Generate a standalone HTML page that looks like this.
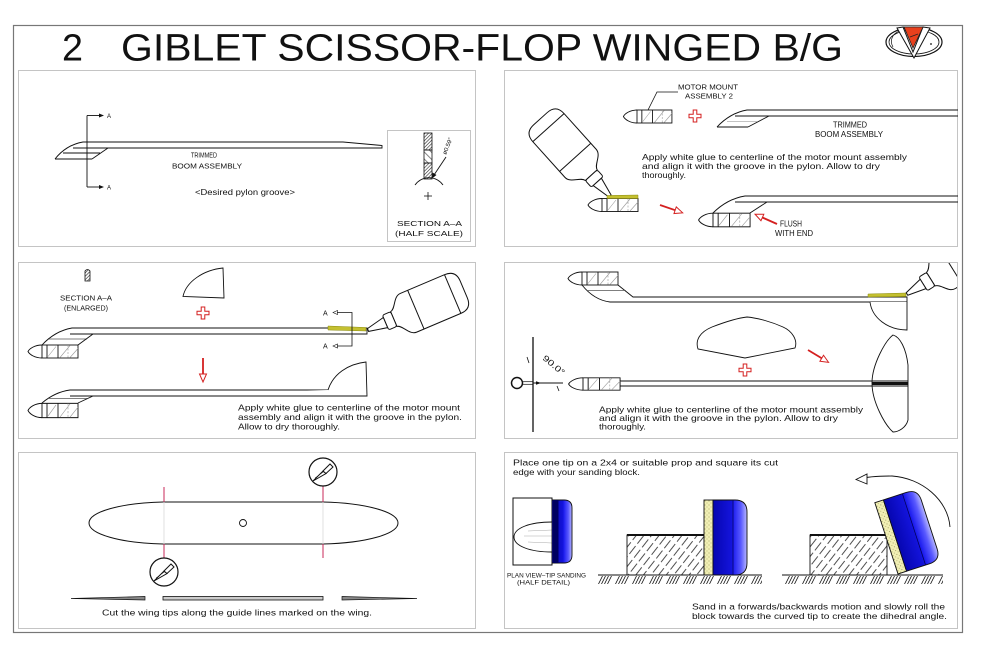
<!DOCTYPE html>
<html><head><meta charset="utf-8"><style>
html,body{margin:0;padding:0;background:#fff;}
svg{display:block;}
text{font-family:"Liberation Sans",sans-serif;fill:#111;}
</style></head><body>
<svg width="1000" height="647" viewBox="0 0 1000 647" xmlns="http://www.w3.org/2000/svg">
<defs>
<pattern id="h1" width="2.4" height="2.4" patternUnits="userSpaceOnUse" patternTransform="rotate(45)"><line x1="1.2" y1="0" x2="1.2" y2="2.4" stroke="#222" stroke-width="0.6"/></pattern>
<pattern id="h2" width="5" height="5" patternUnits="userSpaceOnUse" patternTransform="rotate(-45)"><line x1="2.5" y1="0" x2="2.5" y2="5" stroke="#333" stroke-width="0.6"/></pattern>
<pattern id="bh" width="6" height="13" patternUnits="userSpaceOnUse" patternTransform="rotate(38)"><line x1="3" y1="0" x2="3" y2="13" stroke="#222" stroke-width="0.8" stroke-dasharray="10 3"/></pattern>
<pattern id="gh" width="17" height="8" patternUnits="userSpaceOnUse" x="598" y="576"><g stroke="#111" stroke-width="0.8"><line x1="0.5" y1="8" x2="4.5" y2="0"/><line x1="3.5" y1="8" x2="7.5" y2="0"/><line x1="6.5" y1="8" x2="10.5" y2="0"/><line x1="9.5" y1="8" x2="13.5" y2="0"/></g></pattern>
<pattern id="sp" width="4" height="4" patternUnits="userSpaceOnUse"><rect width="4" height="4" fill="#f1efb4"/><circle cx="1" cy="1" r="0.5" fill="#8a8a50"/><circle cx="3" cy="3" r="0.45" fill="#a0a060"/></pattern>
<linearGradient id="bl" x1="0" y1="0" x2="1" y2="0">
<stop offset="0" stop-color="#0606b0"/><stop offset="0.55" stop-color="#1414dc"/><stop offset="0.6" stop-color="#2020f0"/><stop offset="0.82" stop-color="#5a5aff"/><stop offset="1" stop-color="#b8b8ff"/>
</linearGradient>
<clipPath id="mrclip"><rect x="505" y="263" width="452" height="175"/></clipPath>
<g id="mm" stroke="#111" stroke-width="0.9">
<path d="M0,-6.5 C-7,-6.5 -12.5,-3 -14,0 C-12.5,3 -7,6.5 0,6.5" fill="#fff"/>
<rect x="0" y="-6.5" width="36" height="13" fill="#fff"/>
<line x1="5" y1="-6.5" x2="5" y2="6.5"/>
<line x1="16" y1="-6.5" x2="16" y2="6.5"/>
<g stroke="#9a9a9a" stroke-width="0.6"><line x1="6" y1="5" x2="14" y2="-5"/><line x1="18" y1="6" x2="28" y2="-6"/><line x1="28" y1="6" x2="36" y2="-3"/><line x1="26" y1="-6.5" x2="26" y2="6.5" stroke-dasharray="2 1.5"/></g>
</g>
<g id="bottle" fill="#fff" stroke="#111" stroke-width="1">
<path d="M-8,-28 C-9,-34 -21,-36 -21,-44 L-21,-92 Q-21,-104 -9,-104 L9,-104 Q21,-104 21,-92 L21,-44 C21,-36 9,-34 8,-28 Z"/>
<line x1="-21" y1="-52" x2="21" y2="-52"/>
<line x1="-21" y1="-92" x2="21" y2="-92"/>
<rect x="-8" y="-28" width="16" height="9" rx="2"/>
<path d="M-5.5,-19 L-1.5,0 L1.5,0 L5.5,-19 Z"/>
</g>
<polygon id="rc" points="-1.8,-6 1.8,-6 1.8,-1.8 6,-1.8 6,1.8 1.8,1.8 1.8,6 -1.8,6 -1.8,1.8 -6,1.8 -6,-1.8 -1.8,-1.8" fill="#fff" stroke="#d42020" stroke-width="1"/>
<g id="ra"><line x1="0" y1="0" x2="16" y2="0" stroke="#d42020" stroke-width="1.8"/><polygon points="24,0 16,-3.5 16,3.5" fill="#fff" stroke="#d42020" stroke-width="1"/></g>
<g id="knife" stroke="#111" stroke-width="1">
<circle cx="0" cy="0" r="14" fill="#fff" stroke-width="1.2"/>
<path d="M-10,9 L0,-1 L3,1.5 Z" fill="#fff"/>
<path d="M0,-1 L7,-8 L10,-5 L3,1.5 Z" fill="#fff"/>
<line x1="-8" y1="6" x2="1" y2="-0.5" stroke-width="0.5"/>
</g>
</defs>

<!-- outer frame & title -->
<rect x="13.5" y="25.5" width="949" height="607" fill="#fff" stroke="#777" stroke-width="1.2"/>
<text x="62" y="60.5" font-size="38" textLength="21" lengthAdjust="spacingAndGlyphs">2</text>
<text x="121" y="60.5" font-size="38" textLength="722" lengthAdjust="spacingAndGlyphs">GIBLET SCISSOR-FLOP WINGED B/G</text>

<!-- logo -->
<ellipse cx="914" cy="42" rx="28" ry="14.5" fill="#fff" stroke="#111" stroke-width="1.2"/>
<ellipse cx="914" cy="42" rx="25" ry="12" fill="none" stroke="#111" stroke-width="0.8"/>
<path d="M893,47 C889,40 893,33 900,31" fill="none" stroke="#111" stroke-width="0.7"/>
<polygon points="897,28 903,27 913,52 923,27 930,28 914,58" fill="#fff" stroke="#111" stroke-width="1"/>
<polygon points="904,27 923,27 913,48" fill="#e8401c" stroke="#222" stroke-width="0.8"/>
<line x1="910" y1="37" x2="918" y2="34" stroke="#222" stroke-width="0.8"/>
<circle cx="931" cy="44" r="0.9" fill="#111"/>

<!-- panels -->
<g fill="none" stroke="#c4c4c4" stroke-width="1">
<rect x="18.5" y="70.5" width="457" height="176"/>
<rect x="504.5" y="70.5" width="453" height="176"/>
<rect x="18.5" y="262.5" width="457" height="176"/>
<rect x="504.5" y="262.5" width="453" height="176"/>
<rect x="18.5" y="452.5" width="457" height="176"/>
<rect x="504.5" y="452.5" width="453" height="176"/>
</g>

<!-- ============ TOP LEFT ============ -->
<g stroke="#111" stroke-width="0.9" fill="none">
<line x1="87" y1="115.5" x2="87" y2="187"/>
<line x1="87" y1="115.5" x2="100" y2="115.5"/>
<line x1="87" y1="187" x2="100" y2="187"/>
<path d="M55,159 Q66,145 83,142 L343,142 L382,145.5 L382,148 L73,148"/>
<line x1="63" y1="153" x2="100" y2="153"/>
<line x1="55" y1="159" x2="92" y2="159"/>
<line x1="108" y1="148" x2="92" y2="159"/>
</g>
<polygon points="104,115.5 99,113.5 99,117.5" fill="#111"/>
<polygon points="104,187 99,185 99,189" fill="#111"/>
<text x="107" y="118" font-size="6">A</text>
<text x="107" y="189.5" font-size="6">A</text>
<text x="191" y="157.5" font-size="7.5" textLength="26" lengthAdjust="spacingAndGlyphs">TRIMMED</text>
<text x="172" y="168.5" font-size="7.5" textLength="70" lengthAdjust="spacingAndGlyphs">BOOM ASSEMBLY</text>
<text x="195" y="195" font-size="8" textLength="100" lengthAdjust="spacingAndGlyphs">&lt;Desired pylon groove&gt;</text>
<rect x="387.5" y="130.5" width="83" height="111" fill="none" stroke="#c4c4c4"/>
<rect x="424" y="133" width="8" height="17" fill="url(#h1)" stroke="#111" stroke-width="0.8"/>
<rect x="424" y="150" width="8" height="13" fill="url(#h2)" stroke="#111" stroke-width="0.8"/>
<rect x="424" y="163" width="8" height="16" fill="url(#h1)" stroke="#111" stroke-width="0.8"/>
<path d="M415,185 A17,17 0 0 1 443,185" fill="none" stroke="#111" stroke-width="0.9"/>
<line x1="424" y1="196" x2="432" y2="196" stroke="#111" stroke-width="0.8"/>
<line x1="428" y1="192" x2="428" y2="200" stroke="#111" stroke-width="0.8"/>
<line x1="446" y1="157" x2="434" y2="175" stroke="#111" stroke-width="0.9"/>
<polygon points="432,178.5 432.5,172.5 436.5,175" fill="#111"/>
<text x="446" y="155" font-size="6" transform="rotate(-68 446 155)">ø0.59"</text>
<text x="397" y="226" font-size="7.5" textLength="65" lengthAdjust="spacingAndGlyphs">SECTION A–A</text>
<text x="395" y="236" font-size="7.5" textLength="68" lengthAdjust="spacingAndGlyphs">(HALF SCALE)</text>

<!-- ============ TOP RIGHT ============ -->
<text x="678" y="89.5" font-size="7.5" textLength="60" lengthAdjust="spacingAndGlyphs">MOTOR MOUNT</text>
<text x="685" y="98.5" font-size="7.5" textLength="48" lengthAdjust="spacingAndGlyphs">ASSEMBLY 2</text>
<path d="M678,92 L657,92 L648,110" fill="none" stroke="#111" stroke-width="0.8"/>
<use href="#mm" transform="translate(637,116.5) scale(0.97,1)"/>
<use href="#rc" transform="translate(695,116)"/>
<g stroke="#111" stroke-width="0.9" fill="none">
<path d="M717,127 Q730,113 747,110 L958,110"/>
<line x1="735" y1="116" x2="958" y2="116"/>
<line x1="717" y1="127" x2="748" y2="127"/>
<line x1="748" y1="127" x2="769" y2="116"/>
<line x1="727" y1="121.5" x2="758" y2="121.5" stroke="#888" stroke-width="0.6"/>
</g>
<text x="833" y="127.5" font-size="8" textLength="34" lengthAdjust="spacingAndGlyphs">TRIMMED</text>
<text x="815" y="137" font-size="8" textLength="68" lengthAdjust="spacingAndGlyphs">BOOM ASSEMBLY</text>
<text x="642" y="160" font-size="8.5" textLength="265" lengthAdjust="spacingAndGlyphs">Apply white glue to centerline of the motor mount assembly</text>
<text x="642" y="169" font-size="8.5" textLength="238" lengthAdjust="spacingAndGlyphs">and align it with the groove in the pylon. Allow to dry</text>
<text x="642" y="178" font-size="8.5" textLength="44" lengthAdjust="spacingAndGlyphs">thoroughly.</text>
<use href="#bottle" transform="translate(610,196) rotate(-42)"/>
<use href="#mm" transform="translate(602,205)"/>
<polygon points="607,195.5 638,195 638,198.5 607,198.5" fill="#c4c030" stroke="#8a8a10" stroke-width="0.5"/>
<use href="#ra" transform="translate(660,205) rotate(19)"/>
<g stroke="#111" stroke-width="0.9" fill="none">
<path d="M713,213 Q727,199 745,196 L958,196"/>
<line x1="735" y1="202" x2="958" y2="202"/>
<line x1="750" y1="213" x2="767" y2="202"/>
</g>
<use href="#mm" transform="translate(713,220) scale(1.03,1.05)"/>
<use href="#ra" transform="translate(777,224) rotate(204)"/>
<text x="780" y="226.5" font-size="8" textLength="22" lengthAdjust="spacingAndGlyphs">FLUSH</text>
<text x="775" y="236" font-size="8" textLength="38" lengthAdjust="spacingAndGlyphs">WITH END</text>

<!-- ============ MIDDLE LEFT ============ -->
<path d="M85,281 L85,271 Q87.5,268 90,271 L90,281 Z" fill="url(#h1)" stroke="#111" stroke-width="0.8"/>
<text x="60" y="300.5" font-size="7.5" textLength="52" lengthAdjust="spacingAndGlyphs">SECTION A–A</text>
<text x="64" y="310.5" font-size="7.5" textLength="44" lengthAdjust="spacingAndGlyphs">(ENLARGED)</text>
<path d="M183,296.5 C186,282 203,270 223,268 L224,298 Z" fill="#fff" stroke="#111" stroke-width="0.9"/>
<use href="#rc" transform="translate(203,313)"/>
<g stroke="#111" stroke-width="0.9" fill="none">
<path d="M42,345 Q55,331 72,328 L367,328 L367,334 L70,334"/>
<line x1="49" y1="339" x2="87" y2="339" stroke="#555" stroke-width="0.7"/>
<line x1="78" y1="345" x2="93" y2="334"/>
</g>
<use href="#mm" transform="translate(42,351.5)"/>
<polygon points="328,326 366,327.5 366,331 328,330" fill="#c4c030" stroke="#8a8a10" stroke-width="0.5"/>
<g stroke="#111" stroke-width="0.8" fill="none">
<path d="M337,312.5 L352,312.5 L352,346 L337,346"/>
</g>
<polygon points="333,312.5 337.5,310.5 337.5,314.5" fill="none" stroke="#111" stroke-width="0.6"/>
<polygon points="333,346 337.5,344 337.5,348" fill="none" stroke="#111" stroke-width="0.6"/>
<text x="323" y="315.5" font-size="7">A</text>
<text x="323" y="348.5" font-size="7">A</text>
<use href="#bottle" transform="translate(368,330) rotate(67)"/>
<use href="#ra" transform="translate(203,358) rotate(90)"/>
<g stroke="#111" stroke-width="0.9" fill="none">
<path d="M42,403 Q55,392 70,390 L328,390"/>
<path d="M328,390 C333,374 348,364 366,362 L367,396 L70,396" fill="#fff"/>
<line x1="49" y1="398.5" x2="87" y2="398.5" stroke="#555" stroke-width="0.7"/>
<line x1="78" y1="403" x2="93" y2="396"/>
</g>
<use href="#mm" transform="translate(42,410.5) scale(1,1.1)"/>
<text x="238" y="410.5" font-size="8.5" textLength="222" lengthAdjust="spacingAndGlyphs">Apply white glue to centerline of the motor mount</text>
<text x="238" y="420" font-size="8.5" textLength="224" lengthAdjust="spacingAndGlyphs">assembly and align it with the groove in the pylon.</text>
<text x="238" y="429.5" font-size="8.5" textLength="102" lengthAdjust="spacingAndGlyphs">Allow to dry thoroughly.</text>

<!-- ============ MIDDLE RIGHT ============ -->
<use href="#mm" transform="translate(582,278.5)"/>
<g stroke="#111" stroke-width="0.9" fill="none">
<path d="M582,285 Q594,300 610,302 L907,302 L907,297 L633,297 L618,285"/>
<line x1="587" y1="290.5" x2="626" y2="290.5" stroke="#555" stroke-width="0.7"/>
<path d="M870,302 C872,318 888,330 907,330 L907,302" fill="#fff"/>
</g>
<polygon points="868,294 906,293 906,296.5 868,297" fill="#c4c030" stroke="#8a8a10" stroke-width="0.5"/>
<g clip-path="url(#mrclip)"><use href="#bottle" transform="translate(907,294) rotate(58)"/></g>
<path d="M698,349 C695,340 700,332 712,327 C725,322 738,318 747,317 C758,318 772,322 783,327 C792,331 798,340 795,348 L745,358 Z" fill="#fff" stroke="#111" stroke-width="0.9"/>
<use href="#ra" transform="translate(808,350) rotate(31)"/>
<use href="#rc" transform="translate(745,370)"/>
<path d="M893,335 C900,337 906,348 908,365 L908,420 C906,428 898,432 893,432 C885,425 872,402 872,383 C872,365 885,341 893,335 Z" fill="#fff" stroke="#111" stroke-width="0.9"/>
<g stroke="#111" stroke-width="0.9" fill="none">
<line x1="620" y1="381" x2="908" y2="381"/>
<line x1="620" y1="386" x2="908" y2="386"/>
</g>
<line x1="872" y1="383.5" x2="908" y2="383.5" stroke="#111" stroke-width="3"/>
<use href="#mm" transform="translate(583,384) scale(1.03,0.95)"/>
<line x1="533" y1="337" x2="533" y2="432" stroke="#111" stroke-width="1.3"/>
<circle cx="517" cy="383" r="5.5" fill="#fff" stroke="#111" stroke-width="1.5"/>
<line x1="522.5" y1="381.7" x2="533" y2="381.7" stroke="#111" stroke-width="0.7"/>
<line x1="522.5" y1="384.3" x2="533" y2="384.3" stroke="#111" stroke-width="0.7"/>
<line x1="533" y1="383" x2="563" y2="383" stroke="#111" stroke-width="0.9"/>
<polygon points="541,383 536,381.3 536,384.7" fill="#111"/>
<line x1="557" y1="386" x2="559" y2="391" stroke="#111" stroke-width="0.8"/>
<line x1="527" y1="357" x2="529" y2="363" stroke="#111" stroke-width="0.8"/>
<text x="542" y="359" font-size="8.5" textLength="26" lengthAdjust="spacingAndGlyphs" transform="rotate(40 542 359)">90.0°</text>
<text x="599" y="412.5" font-size="8.5" textLength="264" lengthAdjust="spacingAndGlyphs">Apply white glue to centerline of the motor mount assembly</text>
<text x="599" y="421" font-size="8.5" textLength="239" lengthAdjust="spacingAndGlyphs">and align it with the groove in the pylon. Allow to dry</text>
<text x="599" y="429.5" font-size="8.5" textLength="47" lengthAdjust="spacingAndGlyphs">thoroughly.</text>

<!-- ============ BOTTOM LEFT ============ -->
<path d="M163,502 C120,503 89,512 89,523 C89,534 120,543 163,544 L323,544 C366,543 398,534 398,523 C398,512 366,503 323,502 Z" fill="#fff" stroke="#111" stroke-width="1"/>
<circle cx="243" cy="523" r="3.5" fill="#fff" stroke="#111" stroke-width="0.9"/>
<line x1="164" y1="502" x2="164" y2="544" stroke="#d8d8d8" stroke-width="0.8"/>
<line x1="323" y1="502" x2="323" y2="544" stroke="#d8d8d8" stroke-width="0.8"/>
<line x1="164" y1="487" x2="164" y2="502" stroke="#c8285a" stroke-width="1"/>
<line x1="164" y1="544" x2="164" y2="558" stroke="#c8285a" stroke-width="1"/>
<line x1="323" y1="486" x2="323" y2="502" stroke="#c8285a" stroke-width="1"/>
<line x1="323" y1="544" x2="323" y2="558" stroke="#c8285a" stroke-width="1"/>
<use href="#knife" transform="translate(164,572)"/>
<use href="#knife" transform="translate(323,472)"/>
<path d="M71,598.5 L145,596.5 L145,600 Z" fill="#888" stroke="#111" stroke-width="0.7"/>
<rect x="163" y="596.5" width="160" height="3.5" fill="#ccc" stroke="#111" stroke-width="0.8"/>
<path d="M342,596.5 L417,598.5 L342,600 Z" fill="#888" stroke="#111" stroke-width="0.7"/>
<text x="102" y="615.5" font-size="8.5" textLength="270" lengthAdjust="spacingAndGlyphs">Cut the wing tips along the guide lines marked on the wing.</text>

<!-- ============ BOTTOM RIGHT ============ -->
<text x="513" y="465.5" font-size="8.5" textLength="265" lengthAdjust="spacingAndGlyphs">Place one tip on a 2x4 or suitable prop and square its cut</text>
<text x="513" y="475" font-size="8.5" textLength="127" lengthAdjust="spacingAndGlyphs">edge with your sanding block.</text>
<!-- plan view -->
<rect x="513" y="498" width="39" height="67" fill="#fff" stroke="#111" stroke-width="1"/>
<path d="M552,522 C530,522 514,528 514,537 C514,546 530,552 552,552" fill="#fff" stroke="#111" stroke-width="0.9"/>
<g stroke="#aaa" stroke-width="0.6"><line x1="528" y1="531" x2="552" y2="530"/><line x1="524" y1="536" x2="552" y2="536"/><line x1="528" y1="542" x2="552" y2="543"/></g>
<path d="M552,500 L564,500 Q572,500 572,508 L572,555 Q572,563 564,563 L552,563 Z" fill="url(#bl)" stroke="#111" stroke-width="0.9"/>
<rect x="553" y="500" width="5.5" height="63" fill="#000060"/>
<text x="507" y="577.5" font-size="6" textLength="79" lengthAdjust="spacingAndGlyphs">PLAN VIEW–TIP SANDING</text>
<text x="517" y="584.5" font-size="6" textLength="53" lengthAdjust="spacingAndGlyphs">(HALF DETAIL)</text>
<!-- block 1 -->
<rect x="627" y="535" width="77" height="40" fill="url(#bh)" stroke="#111" stroke-width="0.9"/>
<line x1="627" y1="535" x2="704" y2="535" stroke="#111" stroke-width="2"/>
<rect x="704" y="500" width="9" height="75" fill="url(#sp)" stroke="#111" stroke-width="0.9"/>
<path d="M713,500 L735,500 Q747,500 747,512 L747,563 Q747,575 735,575 L713,575 Z" fill="url(#bl)" stroke="#111" stroke-width="0.9"/>
<line x1="733" y1="500" x2="733" y2="575" stroke="#000050" stroke-width="0.7"/>
<line x1="598" y1="575" x2="762" y2="575" stroke="#111" stroke-width="1"/>
<rect x="598" y="576" width="164" height="8" fill="url(#gh)"/>
<!-- block 2 -->
<rect x="810" y="535" width="77" height="40" fill="url(#bh)" stroke="#111" stroke-width="0.9"/>
<line x1="810" y1="535" x2="887" y2="535" stroke="#111" stroke-width="2"/>
<g transform="translate(898,574) rotate(-18)">
<rect x="0" y="-75" width="9" height="75" fill="url(#sp)" stroke="#111" stroke-width="0.9"/>
<path d="M9,-75 L33,-75 Q45,-75 45,-63 L45,-12 Q45,0 33,0 L9,0 Z" fill="url(#bl)" stroke="#111" stroke-width="0.9"/>
<line x1="29" y1="-75" x2="29" y2="0" stroke="#000050" stroke-width="0.7"/>
</g>
<line x1="782" y1="575" x2="943" y2="575" stroke="#111" stroke-width="1"/>
<rect x="782" y="576" width="161" height="8" fill="url(#gh)"/>
<path d="M950,527 C948,500 922,478 892,476 C877,476 866,477 860,479" fill="none" stroke="#111" stroke-width="0.9"/>
<polygon points="856,479.5 867,474 867,484" fill="#fff" stroke="#111" stroke-width="0.9"/>
<text x="692" y="609.5" font-size="8.5" textLength="253" lengthAdjust="spacingAndGlyphs">Sand in a forwards/backwards motion and slowly roll the</text>
<text x="692" y="619" font-size="8.5" textLength="255" lengthAdjust="spacingAndGlyphs">block towards the curved tip to create the dihedral angle.</text>
</svg>
</body></html>
